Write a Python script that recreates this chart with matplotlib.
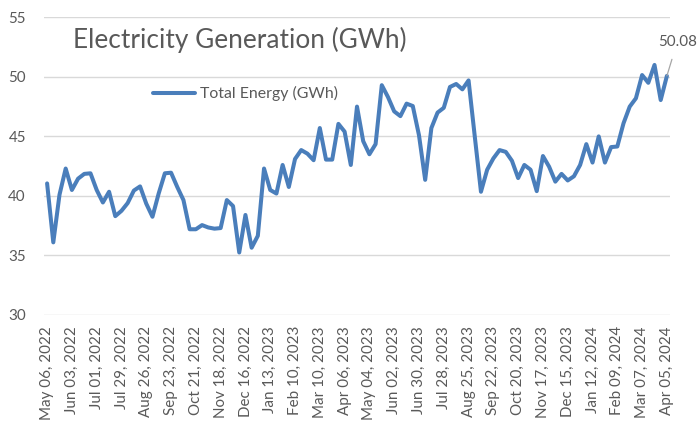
import numpy as np
import matplotlib
matplotlib.use("Agg")
import matplotlib.pyplot as plt

plt.rcParams['font.family'] = ['Lato', 'DejaVu Sans']

# ---- data ----
tick_labels = [
    "May 06, 2022", "Jun 03, 2022", "Jul 01, 2022", "Jul 29, 2022", "Aug 26, 2022",
    "Sep 23, 2022", "Oct 21, 2022", "Nov 18, 2022", "Dec 16, 2022", "Jan 13, 2023",
    "Feb 10, 2023", "Mar 10, 2023", "Apr 06, 2023", "May 04, 2023", "Jun 02, 2023",
    "Jun 30, 2023", "Jul 28, 2023", "Aug 25, 2023", "Sep 22, 2023", "Oct 20, 2023",
    "Nov 17, 2023", "Dec 15, 2023", "Jan 12, 2024", "Feb 09, 2024", "Mar 07, 2024",
    "Apr 05, 2024",
]
label_step = 4

total_energy = [
    41.05, 36.1, 40.1, 42.3, 40.5, 41.45, 41.85, 41.9, 40.5, 39.45,
    40.35, 38.3, 38.75, 39.4, 40.45, 40.8, 39.35, 38.25, 40.2, 41.9,
    41.95, 40.75, 39.65, 37.2, 37.2, 37.55, 37.35, 37.25, 37.3, 39.65,
    39.15, 35.25, 38.4, 35.65, 36.65, 42.3, 40.5, 40.2, 42.6, 40.75,
    43.1, 43.85, 43.55, 43.0, 45.7, 43.05, 43.05, 46.05, 45.4, 42.6,
    47.5, 44.6, 43.5, 44.35, 49.3, 48.3, 47.1, 46.7, 47.75, 47.55,
    45.1, 41.35, 45.7, 47.0, 47.4, 49.15, 49.4, 48.95, 49.7, 45.0,
    40.35, 42.2, 43.15, 43.85, 43.7, 42.95, 41.5, 42.6, 42.2, 40.4,
    43.35, 42.45, 41.2, 41.85, 41.3, 41.65, 42.6, 44.35, 42.8, 45.0,
    42.8, 44.1, 44.15, 46.1, 47.5, 48.2, 50.15, 49.5, 51.0, 48.05,
    50.08,
]
series_name = "Total Energy (GWh)"
title = "Electricity Generation (GWh)"
y_ticks = [30, 35, 40, 45, 50, 55]

# ---- styling ----
text_color = "#595959"
grid_color = "#d9d9d9"
line_color = "#4a7ebb"

fig = plt.figure(figsize=(7.0, 4.28), dpi=100)
ax = fig.add_axes([44 / 700, 1 - 315 / 428, (670 - 44) / 700, (315 - 17.3) / 428])

x = np.arange(len(total_energy))
ax.plot(x, total_energy, color=line_color, lw=2.9, solid_joinstyle='round',
        solid_capstyle='round', label=series_name, zorder=3)

ax.set_xlim(-0.5, len(total_energy) - 0.5)
ax.set_ylim(y_ticks[0], y_ticks[-1])
ax.set_yticks(y_ticks)
ax.set_yticklabels([str(v) for v in y_ticks])
ax.set_xticks(x[::label_step])
ax.set_xticklabels(tick_labels, rotation=90)

for s in ax.spines.values():
    s.set_visible(False)
ax.grid(axis='y', color=grid_color, lw=1.0)
ax.set_axisbelow(True)
ax.tick_params(axis='both', length=0, colors=text_color, labelsize=10.9)
ax.tick_params(axis='y', pad=13)
ax.tick_params(axis='x', pad=8)

ax.text(0.0458, 0.896, title, transform=ax.transAxes, ha='left', va='baseline',
        fontsize=18.9, color=text_color)

leg = ax.legend(loc='center left', bbox_to_anchor=((152.7 - 44) / 626, (315 - 93.7) / 297.7),
                frameon=False, fontsize=11.4, handlelength=2.7, handletextpad=0.3,
                borderaxespad=0, borderpad=0)
for t in leg.get_texts():
    t.set_color(text_color)

last = len(total_energy) - 1
ax.annotate(f"{total_energy[last]:.2f}", xy=(last, total_energy[last]),
            xytext=(7.5, 24.7), textcoords='offset points', ha='center', va='center',
            fontsize=10.9, color=text_color, annotation_clip=False,
            arrowprops=dict(arrowstyle='-', color='#a6a6a6', lw=0.9,
                            shrinkA=6, shrinkB=0))

fig.savefig("out.png", dpi=100)
